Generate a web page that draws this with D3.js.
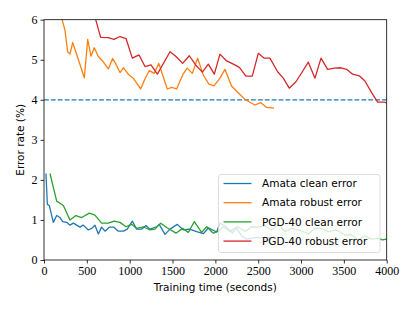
<!DOCTYPE html>
<html>
<head>
<meta charset="utf-8">
<script src="https://cdn.jsdelivr.net/npm/d3@7"></script>
<style>
  body { margin: 0; background: #fff; }
  svg { display: block; }
</style>
</head>
<body>
<svg id="chart"></svg>
<script>
// series data (time in seconds, error in %)
var amataCleanT = [23, 39, 62, 109, 148, 187, 218, 265, 303, 342, 381, 420, 459, 517, 556, 595, 634, 673, 712, 762, 817, 867, 926, 972, 1031, 1081, 1140, 1190, 1237, 1315, 1345, 1412, 1471, 1556, 1626, 1696, 1782, 1860, 1918, 2015, 2054, 2112, 2198, 2249, 2307, 2366, 2462, 2540, 2618, 2684];
var amataCleanV = [2.16, 1.39, 1.36, 0.94, 1.11, 1.06, 0.96, 0.94, 0.87, 0.92, 0.87, 0.82, 0.87, 0.75, 0.79, 0.87, 0.65, 0.82, 0.72, 0.82, 0.82, 0.72, 0.72, 0.77, 0.97, 0.77, 0.77, 0.86, 0.77, 0.83, 0.89, 0.64, 0.77, 0.89, 0.75, 0.77, 0.71, 0.66, 0.80, 0.70, 0.92, 0.85, 0.68, 0.79, 0.60, 0.52, 0.56, 0.56, 0.56, 0.57];

var amataRobustT = [30, 110, 160, 245, 276, 303, 335, 471, 510, 548, 587, 634, 692, 751, 801, 840, 887, 926, 984, 1042, 1128, 1178, 1229, 1287, 1340, 1439, 1490, 1548, 1618, 1672, 1731, 1793, 1859, 1925, 1984, 2054, 2112, 2190, 2256, 2345, 2404, 2462, 2528, 2599, 2684];
var amataRobustV = [8.5, 7.2, 6.4, 5.74, 5.2, 5.14, 5.43, 4.55, 5.51, 5.09, 5.30, 5.08, 4.95, 4.77, 5.03, 4.89, 4.68, 4.80, 4.64, 4.54, 4.27, 4.52, 4.73, 4.66, 4.91, 4.27, 4.31, 4.27, 4.62, 4.79, 4.66, 5.04, 4.62, 4.39, 4.35, 4.54, 4.76, 4.34, 4.20, 4.01, 3.94, 3.87, 3.93, 3.81, 3.79];

var pgdCleanT = [70, 148, 226, 303, 373, 440, 529, 595, 673, 751, 817, 887, 957, 1023, 1081, 1159, 1237, 1295, 1362, 1432, 1541, 1618, 1685, 1755, 1840, 1899, 1976, 2035, 2093, 2171, 2256, 2345, 2424, 2500, 2579, 2657, 2735, 2813, 2891, 3007, 3085, 3163, 3240, 3318, 3416, 3512, 3590, 3668, 3746, 3824, 3902, 3950, 4000];
var pgdCleanV = [2.16, 1.47, 1.36, 1.0, 1.11, 1.06, 1.17, 1.12, 0.92, 0.92, 0.97, 0.94, 0.83, 0.89, 0.79, 0.83, 0.75, 0.77, 0.92, 0.81, 0.67, 0.79, 0.69, 0.96, 0.69, 0.83, 0.67, 0.72, 0.83, 0.71, 0.83, 0.71, 0.83, 0.82, 0.86, 0.75, 0.89, 0.71, 0.79, 0.73, 0.65, 0.79, 0.79, 0.71, 0.75, 0.62, 0.63, 0.50, 0.61, 0.52, 0.54, 0.50, 0.52];

var pgdRobustT = [500, 661, 751, 817, 887, 957, 1031, 1109, 1179, 1249, 1323, 1471, 1541, 1618, 1696, 1770, 1848, 1918, 1988, 2054, 2132, 2210, 2280, 2357, 2431, 2501, 2571, 2637, 2727, 2793, 2863, 2941, 3015, 3085, 3163, 3233, 3311, 3388, 3466, 3532, 3602, 3680, 3746, 3824, 3894, 3971, 4000];
var pgdRobustV = [6.8, 5.56, 5.55, 5.51, 5.58, 5.53, 5.04, 5.12, 4.83, 4.87, 4.64, 5.20, 5.08, 4.91, 5.10, 4.87, 4.69, 4.89, 4.64, 5.14, 4.97, 4.89, 4.81, 4.59, 4.59, 5.16, 5.04, 5.04, 4.70, 4.54, 4.29, 4.45, 4.70, 4.94, 4.54, 5.04, 4.76, 4.79, 4.80, 4.76, 4.64, 4.60, 4.47, 4.18, 3.94, 3.94, 3.92];

var seriesNames = ['Amata clean error', 'Amata robust error', 'PGD-40 clean error', 'PGD-40 robust error'];
var seriesColors = ['#1f77b4', '#ff7f0e', '#2ca02c', '#d62728'];
var xTicks = [0, 500, 1000, 1500, 2000, 2500, 3000, 3500, 4000];
var yTicks = [0, 1, 2, 3, 4, 5, 6];
var targetLine = 4;

var width = 415, height = 311;
var margin = { top: 19.7, right: 28.3, bottom: 51, left: 44 };
var innerW = width - margin.left - margin.right;
var innerH = height - margin.top - margin.bottom;

var svg = d3.select('#chart')
  .attr('width', width)
  .attr('height', height);

var x = d3.scaleLinear().domain([0, 4000]).range([0, innerW]);
var y = d3.scaleLinear().domain([0, 6]).range([innerH, 0]);

svg.append('defs').append('clipPath')
  .attr('id', 'clip')
  .append('rect')
  .attr('width', innerW)
  .attr('height', innerH);

var g = svg.append('g')
  .attr('transform', 'translate(' + margin.left + ',' + margin.top + ')');

var plot = g.append('g').attr('clip-path', 'url(#clip)');

var series = [
  d3.zip(amataCleanT, amataCleanV),
  d3.zip(amataRobustT, amataRobustV),
  d3.zip(pgdCleanT, pgdCleanV),
  d3.zip(pgdRobustT, pgdRobustV)
];

var line = d3.line()
  .x(function(d) { return x(d[0]); })
  .y(function(d) { return y(d[1]); });

// dashed reference line at 4%
plot.append('line')
  .attr('x1', 0)
  .attr('x2', innerW)
  .attr('y1', y(targetLine))
  .attr('y2', y(targetLine))
  .attr('stroke', '#1f77b4')
  .attr('stroke-width', 1.3)
  .attr('stroke-dasharray', '4.8,2.1');

plot.selectAll('path.series')
  .data(series)
  .enter()
  .append('path')
  .attr('class', 'series')
  .attr('d', line)
  .attr('fill', 'none')
  .attr('stroke', function(d, i) { return seriesColors[i]; })
  .attr('stroke-width', 1.3)
  .attr('stroke-linejoin', 'round');

// axes
var xAxis = g.append('g')
  .attr('transform', 'translate(0,' + innerH + ')')
  .call(d3.axisBottom(x).tickValues(xTicks).tickSize(3.5).tickPadding(2.5).tickFormat(d3.format('d')));

var yAxis = g.append('g')
  .call(d3.axisLeft(y).tickValues(yTicks).tickSize(3.5).tickPadding(3).tickFormat(d3.format('d')));

[xAxis, yAxis].forEach(function(a) {
  a.select('.domain').remove();
  a.selectAll('line').attr('stroke', '#000').attr('stroke-width', 0.8);
  a.selectAll('text')
    .attr('fill', '#000')
    .style('font-family', '"Liberation Serif", serif')
    .style('font-size', '12px');
});

// frame
g.append('rect')
  .attr('width', innerW)
  .attr('height', innerH)
  .attr('fill', 'none')
  .attr('stroke', '#000')
  .attr('stroke-width', 0.8);

// axis titles
svg.append('text')
  .attr('x', margin.left + innerW / 2)
  .attr('y', 291)
  .attr('text-anchor', 'middle')
  .style('font-family', '"DejaVu Sans", sans-serif')
  .style('font-size', '10.5px')
  .text('Training time (seconds)');

svg.append('text')
  .attr('transform', 'translate(24,' + (margin.top + innerH / 2) + ') rotate(-90)')
  .attr('text-anchor', 'middle')
  .style('font-family', '"DejaVu Sans", sans-serif')
  .style('font-size', '10.5px')
  .text('Error rate (%)');

// legend
var legend = svg.append('g').attr('transform', 'translate(218.5,174.5)');
legend.append('rect')
  .attr('width', 161.5)
  .attr('height', 78)
  .attr('rx', 2.5)
  .attr('fill', '#fff')
  .attr('fill-opacity', 0.8)
  .attr('stroke', '#d4d4d4')
  .attr('stroke-width', 0.8);

var items = legend.selectAll('g.item')
  .data(seriesNames)
  .enter()
  .append('g')
  .attr('class', 'item')
  .attr('transform', function(d, i) { return 'translate(0,' + (9 + i * 19.2) + ')'; });

items.append('line')
  .attr('x1', 5)
  .attr('x2', 33)
  .attr('stroke', function(d, i) { return seriesColors[i]; })
  .attr('stroke-width', 1.3);

items.append('text')
  .attr('x', 43.5)
  .attr('dy', '0.35em')
  .style('font-family', '"DejaVu Sans", sans-serif')
  .style('font-size', '10.5px')
  .text(function(d) { return d; });
</script>
</body>
</html>
